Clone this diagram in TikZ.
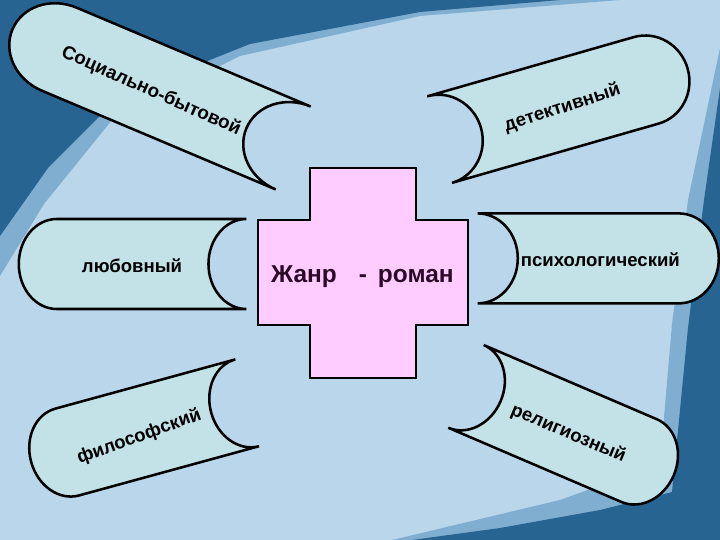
\documentclass[tikz,border=0pt]{standalone}
\usepackage{fontspec}
\setmainfont{Liberation Sans}
\usetikzlibrary{positioning}

\definecolor{bgblue}{RGB}{186,214,234}
\definecolor{midblue}{RGB}{72,136,186}
\definecolor{darkblue}{RGB}{40,100,145}
\definecolor{scrollfill}{RGB}{195,226,232}
\definecolor{crosspink}{RGB}{255,204,255}
\definecolor{titlecol}{RGB}{45,10,40}

\tikzset{
  scrolline/.style={draw=black,line width=1.8pt,fill=scrollfill,line join=miter},
  genre/.style={font=\bfseries\fontsize{13.2}{15}\selectfont,inner sep=0pt},
  pics/scroll/.style={code={
    \path[scrolline] (0,1.125) -- ({#1*5/6},1.125)
      arc[start angle=90,end angle=-90,x radius={#1/6},y radius=1.125]
      -- (0,-1.125)
      arc[start angle=-90,end angle=90,x radius={#1/6},y radius=1.125] -- cycle;
  }}
}

\begin{document}
\begin{tikzpicture}
		\useasboundingbox (0,0) rectangle (18,13.5);
		
		% background
		\fill[bgblue] (0,0) rectangle (18,13.5);
		\fill[midblue,opacity=0.5] (0,13.5) -- (15.5,13.5) -- (10.5,13.1) -- (6,12.1) -- (2.8,10.5) -- (1.1,8.4) -- (0,6.6) -- cycle;
		\fill[darkblue] (0,13.5) -- (14,13.5) -- (10.5,13.2) -- (6.25,12.4) -- (3,11.1) -- (1.2,9.3) -- (0,7.6) -- cycle;
		\fill[midblue,opacity=0.5] (18,12.3) -- (17.2,8.5) -- (16.8,5.4) -- (16.5,1.9) -- (14,1) -- (9.8,0) -- (18,0) -- cycle;
		\fill[darkblue] (18,11.3) -- (17.6,8.5) -- (17.2,5.3) -- (16.8,1.2) -- (15,0.75) -- (12.5,0.3) -- (10.3,0) -- (18,0) -- cycle;
		
		% scrolls
		\pic[rotate=157.1] (socscroll) at (7.33,9.8) {scroll=7.62};
		\pic[rotate=16] (detscroll) at (10.99,10.01) {scroll=6.45};
		\pic[rotate=180] (lovescroll) at (6.16,6.9) {scroll=5.69};
		\pic[rotate=0] (psyscroll) at (11.94,7.04) {scroll=6.03};
		\pic[rotate=195.3] (philscroll) at (6.18,3.43) {scroll=5.6};
		\pic[rotate=-23.2] (relscroll) at (11.65,3.84) {scroll=5.65};
		
		\node[genre,rotate=-24,font=\bfseries\fontsize{13.4}{15}\selectfont] (social) at (3.78,11.22) {Социально-бытовой};
		\node[genre,rotate=18] (detective) at (14.06,10.8) {детективный};
		\node[genre] (love) at (3.3,6.85) {любовный};
		\node[genre] (psycho) at (15.01,7.0) {психологический};
		\node[genre,rotate=20] (philo) at (3.48,2.58) {философский};
		\node[genre,rotate=-23] (relig) at (14.21,2.66) {религиозный};
		
		% centre
		\draw[line width=1.4pt,fill=crosspink] (7.75,9.3) -- (10.39,9.3) -- (10.39,8) -- (11.7,8) -- (11.7,5.375) -- (10.39,5.375) -- (10.39,4.05) -- (7.75,4.05) -- (7.75,5.375) -- (6.45,5.375) -- (6.45,8) -- (7.75,8) -- cycle;
		\node[font=\bfseries\fontsize{17.4}{19}\selectfont,text=titlecol] (novel) at (9.06,6.58) {Жанр\hspace{0.9em}-\hspace{0.45em}роман};
\end{tikzpicture}
\end{document}
